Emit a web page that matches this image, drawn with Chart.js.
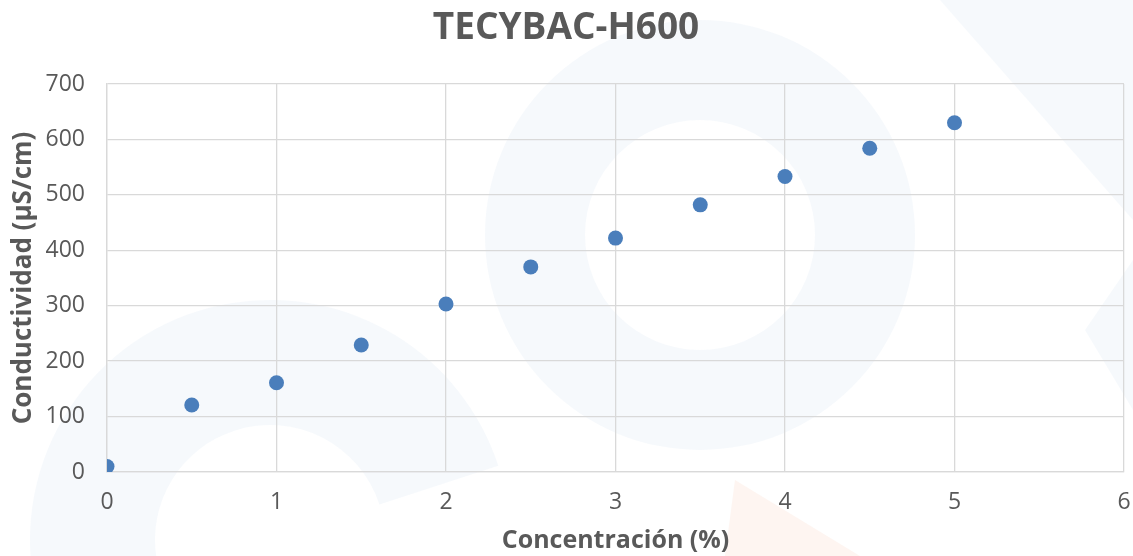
<!DOCTYPE html>
<html>
<head>
<meta charset="utf-8">
<script src="https://cdn.jsdelivr.net/npm/chart.js@4/dist/chart.umd.min.js"></script>
<style>
html,body{margin:0;padding:0;background:#fff;}
#wrap{width:1133px;height:556px;position:relative;}
</style>
</head>
<body>
<div id="wrap"><canvas id="c" width="1133" height="556"></canvas></div>
<script>
const concentracion = [0, 0.5, 1, 1.5, 2, 2.5, 3, 3.5, 4, 4.5, 5];
const conductividad = [10, 121, 161, 229, 303, 370, 422, 482, 533, 584, 630];
const xTicks = [0, 1, 2, 3, 4, 5, 6];
const yTicks = [0, 100, 200, 300, 400, 500, 600, 700];

const FONT = "'Open Sans', 'Noto Sans', sans-serif";
const TXT = '#595959';

const watermark = {
  id: 'watermark',
  beforeDraw(chart) {
    const ctx = chart.ctx;
    ctx.save();
    ctx.fillStyle = '#ffffff';
    ctx.fillRect(0, 0, chart.width, chart.height);
    ctx.fillStyle = 'rgba(214,226,240,0.22)';
    ctx.beginPath();
    ctx.arc(700, 235, 215, 0, Math.PI * 2);
    ctx.arc(700, 235, 115, 0, Math.PI * 2, true);
    ctx.fill('evenodd');
    ctx.beginPath();
    ctx.arc(270, 540, 240, Math.PI * 0.95, Math.PI * 1.9);
    ctx.arc(270, 540, 115, Math.PI * 1.9, Math.PI * 0.95, true);
    ctx.closePath();
    ctx.fill();
    ctx.beginPath();
    ctx.moveTo(940, 0); ctx.lineTo(1133, 0); ctx.lineTo(1133, 220); ctx.closePath();
    ctx.fill();
    ctx.beginPath();
    ctx.moveTo(1133, 260); ctx.lineTo(1085, 330); ctx.lineTo(1133, 410); ctx.closePath();
    ctx.fill();
    ctx.fillStyle = 'rgba(250,215,200,0.25)';
    ctx.beginPath();
    ctx.moveTo(735, 480); ctx.lineTo(860, 556); ctx.lineTo(725, 556); ctx.closePath();
    ctx.fill();
    ctx.restore();
  }
};

new Chart(document.getElementById('c'), {
  type: 'scatter',
  data: {
    datasets: [{
      data: concentracion.map((x, i) => ({x: x, y: conductividad[i]})),
      backgroundColor: '#4a7ebb',
      borderColor: '#4a7ebb',
      pointRadius: 7.5,
      pointHoverRadius: 7.5,
      borderWidth: 0
    }]
  },
  options: {
    responsive: false,
    animation: false,
    layout: {padding: {left: 8, right: 9, top: 0, bottom: 0}},
    plugins: {
      legend: {display: false},
      tooltip: {enabled: false},
      title: {
        display: true,
        text: 'TECYBAC-H600',
        color: TXT,
        font: {family: FONT, size: 37, weight: 'bold'},
        padding: {top: 6, bottom: 33.6}
      }
    },
    scales: {
      x: {
        type: 'linear',
        min: 0, max: 6,
        afterBuildTicks(axis) { axis.ticks = xTicks.map(v => ({value: v})); },
        afterFit(axis) { axis.height = 84; axis.paddingLeft = 0; axis.paddingRight = 0; },
        ticks: {color: TXT, font: {family: FONT, size: 23}, padding: 17},
        grid: {color: '#d9d9d9', lineWidth: 1.3, drawTicks: false},
        border: {color: '#d9d9d9', width: 1.3},
        title: {display: true, text: 'Concentración (%)', color: TXT,
          font: {family: FONT, size: 25, weight: 'bold'}, padding: {top: 0, bottom: 0}}
      },
      y: {
        min: 0, max: 700,
        afterBuildTicks(axis) { axis.ticks = yTicks.map(v => ({value: v})); },
        afterFit(axis) { axis.width = 99; axis.paddingTop = 0; axis.paddingBottom = 0; },
        ticks: {color: TXT, font: {family: FONT, size: 23}, padding: 22},
        grid: {color: '#d9d9d9', lineWidth: 1.3, drawTicks: false},
        border: {color: '#d9d9d9', width: 1.3},
        title: {display: true, text: 'Conductividad (µS/cm)', color: TXT,
          font: {family: FONT, size: 26, weight: 'bold'}, padding: {top: 0, bottom: 0}}
      }
    }
  },
  plugins: [watermark]
});
</script>
</body>
</html>
